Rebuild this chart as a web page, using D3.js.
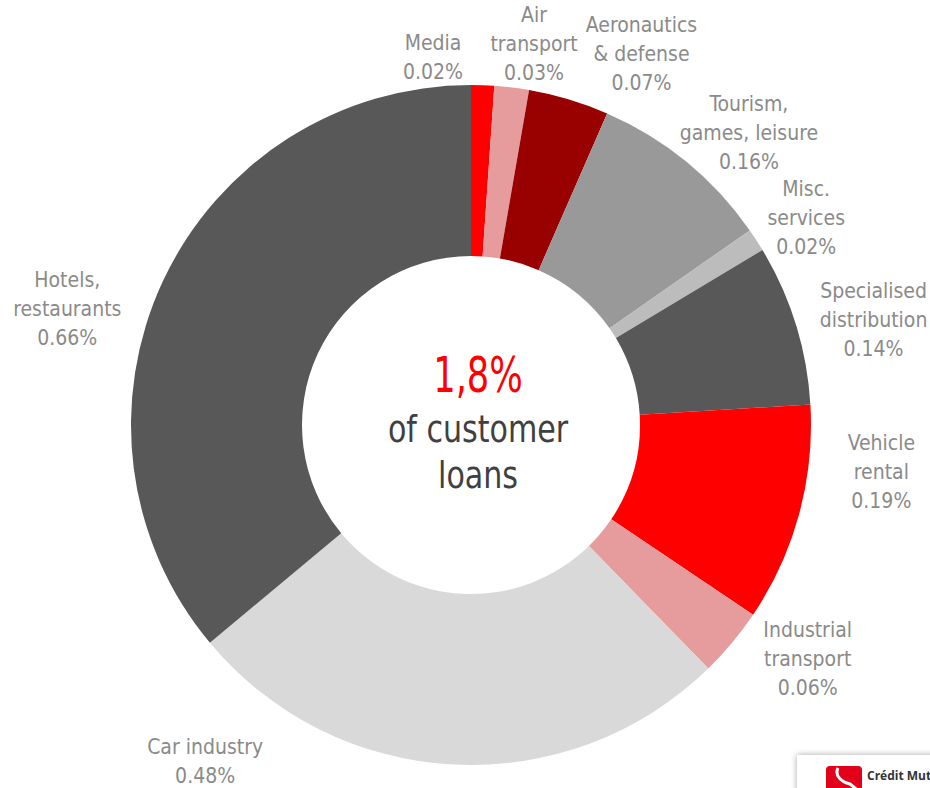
<!DOCTYPE html>
<html>
<head>
<meta charset="utf-8">
<script src="https://cdn.jsdelivr.net/npm/d3@7/dist/d3.min.js"></script>
<style>
  html, body { margin: 0; padding: 0; background: #ffffff; }
  svg { display: block; }
  .lbl { font-family: "DejaVu Sans Condensed", "DejaVu Sans", sans-serif; fill: #8a8a8a; font-size: 21px; }
  .mid { font-family: "DejaVu Sans Condensed", "DejaVu Sans", sans-serif; }
</style>
</head>
<body>
<svg id="chart" width="930" height="788"></svg>
<script>
// Sector exposure, % of customer loans
const sectors = ["Media", "Air transport", "Aeronautics & defense", "Tourism, games, leisure",
  "Misc. services", "Specialised distribution", "Vehicle rental", "Industrial transport",
  "Car industry", "Hotels, restaurants"];
const shares = [0.02, 0.03, 0.07, 0.16, 0.02, 0.14, 0.19, 0.06, 0.48, 0.66];
const labelLines = [
  ["Media", "0.02%"],
  ["Air", "transport", "0.03%"],
  ["Aeronautics", "& defense", "0.07%"],
  ["Tourism,", "games, leisure", "0.16%"],
  ["Misc.", "services", "0.02%"],
  ["Specialised", "distribution", "0.14%"],
  ["Vehicle", "rental", "0.19%"],
  ["Industrial", "transport", "0.06%"],
  ["Car industry", "0.48%"],
  ["Hotels,", "restaurants", "0.66%"]
];
const totalLabel = "1,8%";
const centerLines = ["of customer", "loans"];

const sliceColors = ["#fe0000", "#e69c9c", "#990000", "#999999", "#bcbcbc",
  "#585858", "#fe0000", "#e69c9c", "#d9d9d9", "#585858"];
// label anchor: angle (deg, clockwise from top) and distance from centre
const labelPolar = [[-5.9, 369], [9.4, 386], [24.7, 408], [43.6, 403], [58.3, 394],
  [75.4, 416], [96.5, 413], [124.8, 410], [218.3, 429], [286, 420]];

const svg = d3.select("#chart");
const cx = 471, cy = 425, rOuter = 340, rInner = 169;
const g = svg.append("g").attr("transform", `translate(${cx},${cy})`);

const pie = d3.pie().value(d => d).sort(null);
const arc = d3.arc().innerRadius(rInner).outerRadius(rOuter);
const color = d3.scaleOrdinal().domain(sectors).range(sliceColors);

const arcs = pie(shares);
g.selectAll("path.slice")
  .data(arcs)
  .join("path")
  .attr("class", "slice")
  .attr("d", arc)
  .attr("fill", (d, i) => color(sectors[i]));

// sector labels
const lineH = 29;
arcs.forEach((d, i) => {
  const [deg, r] = labelPolar[i];
  const a = deg * Math.PI / 180;
  const x = r * Math.sin(a), y = -r * Math.cos(a);
  const lines = labelLines[i];
  const t = g.append("text").attr("class", "lbl").attr("text-anchor", "middle");
  lines.forEach((ln, k) => {
    t.append("tspan")
      .attr("x", x)
      .attr("y", y + (k - (lines.length - 1) / 2) * lineH + 7)
      .text(ln);
  });
});

// centre caption (horizontally condensed)
const ct = g.append("g").attr("transform", "translate(7,0)");
ct.append("text")
  .attr("class", "mid")
  .attr("text-anchor", "middle")
  .attr("transform", "translate(0,-33) scale(0.8,1)")
  .style("font-size", "49px").style("fill", "#fe0000")
  .text(totalLabel);
centerLines.forEach((ln, k) => {
  ct.append("text")
    .attr("class", "mid")
    .attr("text-anchor", "middle")
    .attr("transform", `translate(0,${17 + k * 46}) scale(0.88,1)`)
    .style("font-size", "38px").style("fill", "#404040")
    .text(ln);
});

// issuer badge, bottom right
const defs = svg.append("defs");
const f = defs.append("filter").attr("id", "shadow").attr("x", "-20%").attr("y", "-50%")
  .attr("width", "140%").attr("height", "200%");
f.append("feDropShadow").attr("dx", 0).attr("dy", 0).attr("stdDeviation", 3)
  .attr("flood-color", "#000").attr("flood-opacity", 0.35);
const badge = svg.append("g");
badge.append("rect").attr("x", 797).attr("y", 755).attr("width", 160).attr("height", 60)
  .attr("fill", "#fff").attr("filter", "url(#shadow)");
badge.append("rect").attr("x", 826).attr("y", 766).attr("width", 36).attr("height", 30)
  .attr("rx", 4).attr("fill", "#e2001a");
badge.append("path").attr("d", "M838,768 C834,776 842,782 850,784 L860,792")
  .attr("stroke", "#fff").attr("stroke-width", 3).attr("fill", "none");
badge.append("text").attr("x", 867).attr("y", 780)
  .style("font-family", '"Open Sans", "DejaVu Sans", sans-serif').style("font-weight", "700")
  .style("font-size", "12px").style("fill", "#333").text("Crédit Mutuel");
badge.append("text").attr("x", 867).attr("y", 801)
  .style("font-family", '"Open Sans", "DejaVu Sans", sans-serif').style("font-weight", "700")
  .style("font-size", "18px").style("fill", "#e2001a").text("ARKEA");
</script>
</body>
</html>
